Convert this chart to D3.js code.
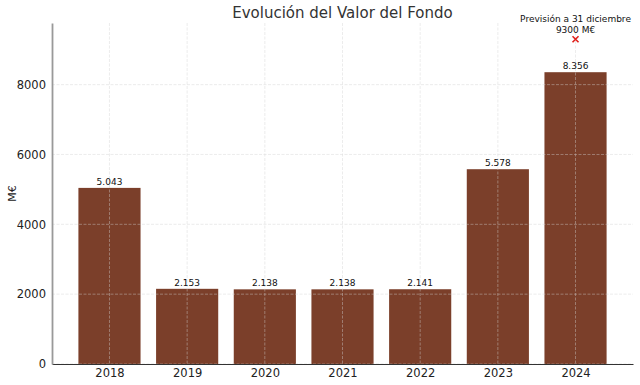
<!DOCTYPE html>
<html>
<head>
<meta charset="utf-8">
<script src="https://cdn.jsdelivr.net/npm/d3@7"></script>
<style>
  body { margin: 0; background: #fff; }
  text { font-family: "DejaVu Sans", sans-serif; }
</style>
</head>
<body>
<div id="chart"></div>
<script>
// ----------------------------------------------
// Data
// ----------------------------------------------
var years = ["2018", "2019", "2020", "2021", "2022", "2023", "2024"];
var values = [5043, 2153, 2138, 2138, 2141, 5578, 8356];
var barLabels = ["5.043", "2.153", "2.138", "2.138", "2.141", "5.578", "8.356"];
var yTicks = [0, 2000, 4000, 6000, 8000];
var forecast = 9300;
var forecastLines = ["Previsión a 31 diciembre", "9300 M€"];

// ----------------------------------------------
// Basic setup
// ----------------------------------------------
var svgWidth = 640;
var svgHeight = 385;
var margin = { top: 23, right: 7, bottom: 21, left: 52 };
var width = svgWidth - margin.left - margin.right;
var height = svgHeight - margin.top - margin.bottom;

var svg = d3.select("#chart")
    .append("svg")
    .attr("width", svgWidth)
    .attr("height", svgHeight);

var chartGroup = svg.append("g")
    .attr("transform", `translate(${margin.left}, ${margin.top})`);

// bar positions as in matplotlib: index with 0.8 width and 5% margins
var xScale = d3.scaleLinear()
    .domain([-0.74, years.length - 1 + 0.74])
    .range([0, width]);
var barWidth = xScale(0.4) - xScale(-0.4);

var yScale = d3.scaleLinear()
    .domain([0, forecast * 1.05])
    .range([height, 0]);

// bars
chartGroup.selectAll(".bar")
    .data(values)
    .enter()
    .append("rect")
    .attr("class", "bar")
    .attr("x", (d, i) => xScale(i) - barWidth / 2)
    .attr("y", d => yScale(d))
    .attr("width", barWidth)
    .attr("height", d => height - yScale(d))
    .attr("fill", "#7b3f2a");

// grid (drawn above bars, like the original)
var grid = chartGroup.append("g")
    .attr("stroke", "#d4d4d4")
    .attr("stroke-width", 0.6)
    .attr("stroke-dasharray", "3,1.5")
    .attr("opacity", 0.7);
grid.selectAll(".hgrid")
    .data(yTicks)
    .enter()
    .append("line")
    .attr("x1", 0)
    .attr("x2", width)
    .attr("y1", d => yScale(d))
    .attr("y2", d => yScale(d));
grid.selectAll(".vgrid")
    .data(years)
    .enter()
    .append("line")
    .attr("x1", (d, i) => xScale(i))
    .attr("x2", (d, i) => xScale(i))
    .attr("y1", 0)
    .attr("y2", height);

// value labels
chartGroup.selectAll(".valLabel")
    .data(values)
    .enter()
    .append("text")
    .attr("x", (d, i) => xScale(i))
    .attr("y", d => yScale(d) - 3)
    .attr("text-anchor", "middle")
    .attr("font-size", "9px")
    .attr("fill", "#111")
    .text((d, i) => barLabels[i]);

// axes
var xAxis = d3.axisBottom(xScale)
    .tickValues(d3.range(years.length))
    .tickFormat(i => years[i])
    .tickSize(0)
    .tickPadding(5);
var yAxis = d3.axisLeft(yScale)
    .tickValues(yTicks)
    .tickFormat(d3.format("d"))
    .tickSize(0)
    .tickPadding(6);

var xAxisG = chartGroup.append("g")
    .attr("transform", `translate(0, ${height})`)
    .call(xAxis);
xAxisG.select(".domain").attr("stroke", "#333").attr("stroke-width", 1.2);
xAxisG.selectAll("text").attr("font-size", "11.5px").attr("fill", "#222");

var yAxisG = chartGroup.append("g").call(yAxis);
yAxisG.select(".domain").attr("stroke", "#999").attr("stroke-width", 1.8);
yAxisG.selectAll("text").attr("font-size", "11.5px").attr("fill", "#222");

// forecast marker
var fx = xScale(years.length - 1);
var fy = yScale(forecast);
chartGroup.append("path")
    .attr("d", `M${fx - 3},${fy - 3}L${fx + 3},${fy + 3}M${fx - 3},${fy + 3}L${fx + 3},${fy - 3}`)
    .attr("stroke", "#e0201b")
    .attr("stroke-width", 1.6);
chartGroup.selectAll(".fcLabel")
    .data(forecastLines)
    .enter()
    .append("text")
    .attr("x", fx)
    .attr("y", (d, i) => fy - 17 + i * 10.5)
    .attr("text-anchor", "middle")
    .attr("font-size", "9px")
    .attr("fill", "#111")
    .text(d => d);

// title and y label
svg.append("text")
    .attr("x", margin.left + width / 2)
    .attr("y", 18)
    .attr("text-anchor", "middle")
    .attr("font-size", "15px")
    .attr("fill", "#333")
    .text("Evolución del Valor del Fondo");

svg.append("text")
    .attr("transform", `translate(16, ${margin.top + height / 2}) rotate(-90)`)
    .attr("text-anchor", "middle")
    .attr("font-size", "11px")
    .attr("fill", "#222")
    .text("M€");
</script>
</body>
</html>
